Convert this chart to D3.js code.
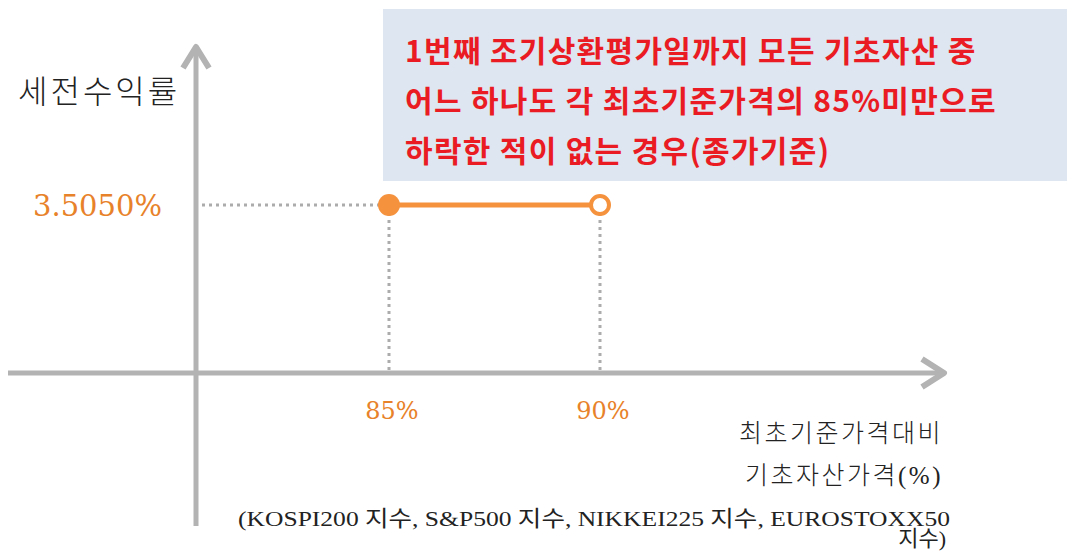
<!DOCTYPE html>
<html>
<head>
<meta charset="utf-8">
<script src="https://cdn.jsdelivr.net/npm/d3@7"></script>
<style>
  html, body { margin: 0; padding: 0; background: #fff; }
  svg { display: block; }
</style>
</head>
<body>
<div id="chart"></div>
<script>
// chart values
const barrierLevels = [85, 90];          // x positions (% of initial price)
const payoffValues = [3.505, 3.505];     // pre-tax return (%)
const pointOpen = [false, true];         // filled at 85%, open at 90%
const tickLabels = ["85%", "90%"];
const yValueLabel = "3.5050%";
const yAxisTitle = "세전수익률";
const xAxisTitle = ["최초기준가격대비", "기초자산가격(%)"];
const noteLines = [
    "1번째 조기상환평가일까지 모든 기초자산 중",
    "어느 하나도 각 최초기준가격의 85%미만으로",
    "하락한 적이 없는 경우(종가기준)"
];
const indexLine = ["(KOSPI200 지수, S&P500 지수, NIKKEI225 지수, EUROSTOXX50", "지수)"];

const width = 1067;
const height = 554;
const originX = 196;
const originY = 373;

const orange = "#f5923e";
const labelOrange = "#e8822a";
const axisGrey = "#b3b3b3";
const dashGrey = "#acacac";

const svg = d3.select("#chart")
    .append("svg")
    .attr("width", width)
    .attr("height", height);

const x = d3.scaleLinear().domain([85, 90]).range([389, 600]);
const y = d3.scaleLinear().domain([0, 3.505]).range([originY, 205]);

// Note box
const box = svg.append("g");
box.append("rect")
    .attr("x", 383)
    .attr("y", 9)
    .attr("width", 700)
    .attr("height", 172)
    .attr("fill", "#dde6f1");

box.selectAll("text")
    .data(noteLines)
    .enter()
    .append("text")
    .attr("x", 405)
    .attr("y", (d, i) => 62 + i * 50)
    .attr("font-family", "'Noto Sans CJK KR', 'Noto Sans', sans-serif")
    .attr("font-weight", 700)
    .attr("font-size", "30px")
    .attr("letter-spacing", "1.3px")
    .attr("fill", "#ea1b22")
    .text(d => d);

// Axes (arrows)
const axes = svg.append("g")
    .attr("fill", "none")
    .attr("stroke", axisGrey)
    .attr("stroke-width", 5);

axes.append("line")
    .attr("x1", 8).attr("y1", originY)
    .attr("x2", 942).attr("y2", originY);
axes.append("polyline")
    .attr("points", `922,359 944,${originY} 922,387`)
    .attr("stroke-width", 6)
    .attr("stroke-linejoin", "round");

axes.append("line")
    .attr("x1", originX).attr("y1", 526)
    .attr("x2", originX).attr("y2", 48);
axes.append("polyline")
    .attr("points", `183,68 ${originX},47 209,68`)
    .attr("stroke-width", 6)
    .attr("stroke-linejoin", "round");

// Guide lines
const guides = svg.append("g")
    .attr("stroke", dashGrey)
    .attr("stroke-width", 3)
    .attr("stroke-dasharray", "3,4");

guides.append("line")
    .attr("x1", originX + 6).attr("y1", y(payoffValues[0]))
    .attr("x2", x(barrierLevels[0])).attr("y2", y(payoffValues[0]));

guides.selectAll("line.v")
    .data(barrierLevels)
    .enter()
    .append("line")
    .attr("class", "v")
    .attr("x1", d => x(d)).attr("y1", y(payoffValues[0]) + 8)
    .attr("x2", d => x(d)).attr("y2", originY - 3);

// Payoff segment
const line = d3.line()
    .x((d, i) => x(barrierLevels[i]))
    .y(d => y(d));

svg.append("path")
    .datum(payoffValues)
    .attr("d", line)
    .attr("fill", "none")
    .attr("stroke", orange)
    .attr("stroke-width", 5);

svg.selectAll("circle.pt")
    .data(payoffValues)
    .enter()
    .append("circle")
    .attr("class", "pt")
    .attr("cx", (d, i) => x(barrierLevels[i]))
    .attr("cy", d => y(d))
    .attr("r", (d, i) => pointOpen[i] ? 9 : 11)
    .attr("fill", (d, i) => pointOpen[i] ? "#fff" : orange)
    .attr("stroke", orange)
    .attr("stroke-width", (d, i) => pointOpen[i] ? 4 : 0);

// Tick labels
svg.selectAll("text.tick")
    .data(barrierLevels)
    .enter()
    .append("text")
    .attr("class", "tick")
    .attr("x", d => x(d) + 3)
    .attr("y", 419)
    .attr("text-anchor", "middle")
    .attr("font-family", "'DejaVu Serif', serif")
    .attr("font-size", "24px")
    .attr("fill", labelOrange)
    .text((d, i) => tickLabels[i]);

svg.append("text")
    .attr("x", 162)
    .attr("y", y(payoffValues[0]) + 11)
    .attr("text-anchor", "end")
    .attr("font-family", "'DejaVu Serif', serif")
    .attr("font-size", "29px")
    .attr("fill", labelOrange)
    .text(yValueLabel);

// Axis titles
svg.append("text")
    .attr("x", 18)
    .attr("y", 103)
    .attr("font-family", "'Noto Sans CJK KR', sans-serif")
    .attr("font-weight", 300)
    .attr("font-size", "32px")
    .attr("letter-spacing", "3px")
    .attr("fill", "#222")
    .text(yAxisTitle);

svg.selectAll("text.xt")
    .data(xAxisTitle)
    .enter()
    .append("text")
    .attr("class", "xt")
    .attr("x", 943)
    .attr("y", (d, i) => 442 + i * 42)
    .attr("text-anchor", "end")
    .attr("font-family", "'Liberation Serif', 'Noto Sans CJK KR', serif")
    .attr("font-weight", 300)
    .attr("font-size", "25px")
    .attr("letter-spacing", "2.5px")
    .attr("fill", "#222")
    .text(d => d);

svg.append("text")
    .attr("x", 238)
    .attr("y", 526)
    .attr("font-family", "'Liberation Serif', 'Noto Sans CJK KR', serif")
    .attr("font-size", "22px")
    .attr("fill", "#222")
    .attr("textLength", 712)
    .attr("lengthAdjust", "spacingAndGlyphs")
    .text(indexLine[0]);

svg.append("text")
    .attr("x", 946)
    .attr("y", 546)
    .attr("text-anchor", "end")
    .attr("font-family", "'Liberation Serif', 'Noto Sans CJK KR', serif")
    .attr("font-size", "22px")
    .attr("fill", "#222")
    .text(indexLine[1]);
</script>
</body>
</html>
